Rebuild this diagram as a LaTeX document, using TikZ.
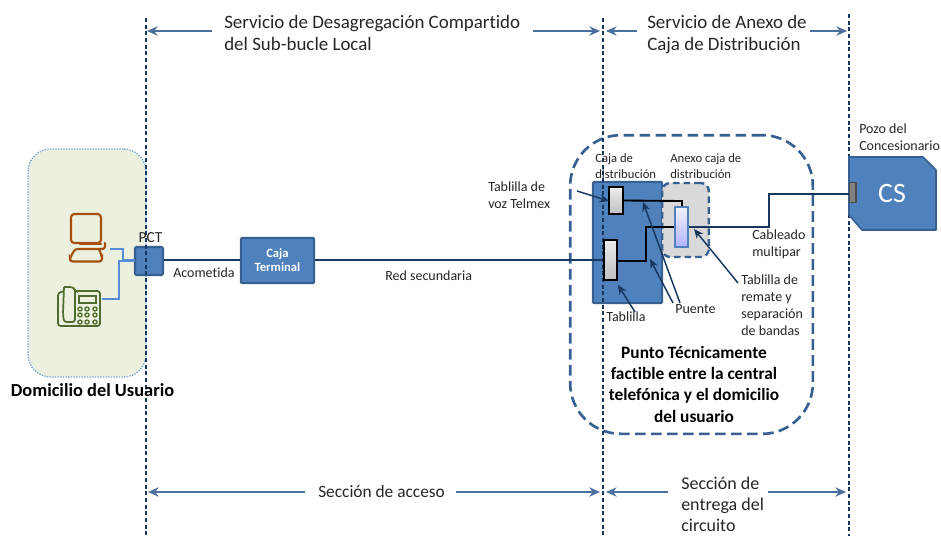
\documentclass[tikz,border=0pt]{standalone}
\usepackage{fontspec}
\setmainfont{Carlito}[Ligatures=NoCommon]
\usetikzlibrary{arrows.meta,calc}
\definecolor{bluefill}{HTML}{4F81BD}
\definecolor{blueedge}{HTML}{376092}
\definecolor{navy}{HTML}{17375E}
\definecolor{homefill}{HTML}{EBF1DE}
\definecolor{wire}{HTML}{558ED5}
\definecolor{pcorange}{HTML}{A5500F}
\definecolor{phgreen}{HTML}{4F6B2E}
\definecolor{txt}{HTML}{262626}
\tikzset{
 x=0.75pt,y=-0.75pt,
 limit/.style={draw=navy,line width=0.9pt,densely dashed},
 span/.style={draw=blueedge!90,line width=1pt,-{Stealth[length=8pt,width=7pt]}},
 big/.style={inner sep=0pt,align=left,text=txt,font=\fontsize{14.2}{16.5}\selectfont},
 small/.style={inner sep=0pt,align=left,text=txt,font=\fontsize{9.5}{12}\selectfont},
 mid/.style={inner sep=0pt,align=left,text=txt,font=\fontsize{10.5}{12.75}\selectfont},
 bluebox/.style={draw=blueedge,fill=bluefill,line width=1.6pt,rounded corners=1pt,inner sep=0pt},
 strip/.style={draw=black,line width=1.1pt,inner sep=0pt,top color=gray!15,bottom color=gray!50},
 bond/.style={draw=black,line width=1.4pt},
 trunk/.style={draw=navy,line width=1.1pt},
 pointer/.style={draw=navy,line width=1.1pt,-{Stealth[length=7pt,width=6pt]}},
 homewire/.style={draw=wire,line width=1pt},
}
\begin{document}
\begin{tikzpicture}
\useasboundingbox (0,0) rectangle (941,536);
\fill[white] (0,0) rectangle (941,536);
% home
\node[draw=wire!80,fill=homefill,densely dotted,line width=1pt,rounded corners=17pt,inner sep=0pt,minimum width=88.5pt,minimum height=171pt] (home) at (87,263) {};
% big dashed region
\node[draw=blueedge,dash pattern=on 8pt off 4pt,line width=2pt,rounded corners=38pt,inner sep=0pt,minimum width=182pt,minimum height=224pt] (region) at (691.5,284.5) {};
% limits
\coordinate (l1t) at (146,18); \coordinate (l1b) at (146,536);
\coordinate (l2t) at (603,18); \coordinate (l2b) at (603,536);
\coordinate (l3t) at (849,14); \coordinate (l3b) at (849,536);
% boxes
\node[bluebox,minimum width=52pt,minimum height=91pt] (caja) at (627.5,242.5) {};
\node[draw=blueedge,fill=gray!30,dash pattern=on 5pt off 3pt,line width=1.8pt,rounded corners=6pt,inner sep=0pt,minimum width=35pt,minimum height=55.5pt] (anexo) at (685.5,220) {};
\node[bluebox,minimum width=21pt,minimum height=21pt] (pct) at (149,261) {};
\node[bluebox,minimum width=55pt,minimum height=34pt,text=white,align=center,font=\bfseries\fontsize{9.5}{10.5}\selectfont] (terminal) at (277.5,260.5) {Caja\\Terminal};
\draw[limit] (l1t)--(l1b);
\draw[limit] (l2t)--(l2b);
\draw[limit] (l3t)--(l3b);
% CS
\coordinate (cs1) at (849,157);\coordinate (cs2) at (923,157);\coordinate (cs3) at (936,170);\coordinate (cs4) at (936,230);\coordinate (cs5) at (862,230);\coordinate (cs6) at (849,215);
\draw[blueedge,fill=bluefill,line width=1.2pt,line join=round] (cs1)--(cs2)--(cs3)--(cs4)--(cs5)--(cs6)--cycle;
\node[text=white,inner sep=0pt,font=\fontsize{21}{24}\selectfont] (cs) at (892,194) {CS};
\node[draw=gray!60!black,fill=gray,line width=.8pt,inner sep=0pt,minimum width=5.2pt,minimum height=15.5pt] (port) at (852.5,192.5) {};
% strips
\node[strip,minimum width=10.5pt,minimum height=20pt] (t1) at (616,200.5) {};
\node[strip,minimum width=10pt,minimum height=30pt] (t2) at (610.5,260) {};
\node[draw=bluefill,line width=1.2pt,inner sep=0pt,top color=blue!5,bottom color=blue!30,minimum width=9.5pt,minimum height=30pt] (t3) at (681.5,227) {};
% wires
\draw[trunk] (pct.east |- 0,260) -- (terminal.west |- 0,260);
\draw[trunk] (terminal.east |- 0,260) -- (t2.west |- 0,260);
\draw[bond] (t1.east) -- (682,201) -- (t3.north -| 682,0);
\draw[bond] (t2.east |- 0,261) -- (646,261) -- (646,227) -- (t3.west);
\draw[trunk,line width=1.6pt] (t3.east) -- (769,227) -- (769,194) -- (port.west |- 0,194);
% home wires
\coordinate (pcout) at (110,249); \coordinate (phout) at (102,299);
\draw[homewire] (pcout) -- (123,249) -- (123,260) -- (pct.west |- 0,260);
\draw[homewire] (phout) -- (119,299) -- (119,261) -- (135,261);
% computer icon
\draw[pcorange,line width=1.6pt,rounded corners=2.5pt,line cap=round] (71,214) rectangle (101,243);
\draw[pcorange,line width=1.6pt,line cap=round] (80,244) -- (101,244);
\draw[pcorange,line width=1.6pt,line cap=round,rounded corners=2pt] (105,243) -- (105,249) -- (75,249) -- (70,258) -- (70,261.5) -- (102,261.5) -- (102,257) -- (99,249);
% phone icon
\begin{scope}[phgreen,line width=1.3pt,rounded corners=2pt]
\draw (64,291) -- (58,293) -- (58,326) -- (100,326) -- (100,291) -- (75,291);
\draw (64,287) -- (73,287) -- (75,290) -- (75,322) -- (64,322) -- (63,314) -- (64,287);
\draw[rounded corners=0pt,line width=1pt] (79,296) rectangle (96,303);
\end{scope}
\foreach \xx in {80,87,95}{\foreach \yy in {309,315,322}{\draw[phgreen,line width=1pt] (\xx,\yy) ellipse (2.1 and 1.9);}}
% span arrows
\coordinate (a1) at (212,31);\coordinate (a1e) at (147,31);
\coordinate (a2) at (533,31);\coordinate (a2e) at (600,31);
\coordinate (a3) at (637,31);\coordinate (a3e) at (606,31);
\coordinate (a4) at (810,31);\coordinate (a4e) at (847,31);
\coordinate (b1) at (305,492);\coordinate (b1e) at (148,492);
\coordinate (b2) at (456,492);\coordinate (b2e) at (600,492);
\coordinate (b3) at (668,492);\coordinate (b3e) at (606,492);
\coordinate (b4) at (768,492);\coordinate (b4e) at (846,492);
\foreach \s/\e in {a1/a1e,a2/a2e,a3/a3e,a4/a4e,b1/b1e,b2/b2e,b3/b3e,b4/b4e}{\draw[span] (\s)--(\e);}
% pointers
\coordinate (pv) at (577,191);
\coordinate (pu) at (680,303);\coordinate (pu2) at (673,303);
\coordinate (pt) at (635,312);
\coordinate (pr) at (738,283);
\draw[pointer] (pv) -- (609,201);
\draw[pointer] (pu) -- (643,202);
\draw[pointer] (pu2) -- (650,259);
\draw[pointer] (pt) -- (618,285);
\draw[pointer] (pr) -- (694,229);
% texts
\node[big,anchor=north west] (s1) at (224,15) {Servicio de Desagregación Compartido\\del Sub-bucle Local};
\node[big,anchor=north west] (s2) at (647,15) {Servicio de Anexo de\\Caja de Distribución};
\node[big,anchor=west,font=\fontsize{13}{16.5}\selectfont] (s3) at (318,492) {Sección de acceso};
\node[big,anchor=north west,font=\fontsize{13.5}{16}\selectfont] (s4) at (681,476.5) {Sección de\\entrega del\\circuito};
\node[small,anchor=north west] (c1) at (595,153) {Caja de\\distribución};
\node[small,anchor=north west] (c2) at (670,153) {Anexo caja de\\distribución};
\node[mid,anchor=north west] (c3) at (488,182) {Tablilla de\\voz Telmex};
\node[mid,anchor=north west] (c4) at (859,124) {Pozo del\\Concesionario};
\node[mid,anchor=center,font=\fontsize{11.5}{13}\selectfont] (c5) at (150.5,238) {PCT};
\node[mid,anchor=west] (c6) at (173,273) {Acometida};
\node[mid,anchor=west] (c7) at (385,276) {Red secundaria};
\node[mid,anchor=north west] (c8) at (752,230) {Cableado\\multipar};
\node[mid,anchor=north west] (c9) at (741,275) {Tablilla de\\remate y\\separación\\de bandas};
\node[mid,anchor=west] (c10) at (606,317) {Tablilla};
\node[mid,anchor=west] (c11) at (675,309) {Puente};
\node[inner sep=0pt,text=black,font=\bfseries\fontsize{13.8}{17.5}\selectfont] (home lbl) at (92.5,390) {Domicilio del Usuario};
\node[inner sep=0pt,text=black,align=center,font=\bfseries\fontsize{13}{16}\selectfont] (punto) at (694,384) {Punto Técnicamente\\factible entre la central\\telefónica y el domicilio\\del usuario};
\end{tikzpicture}
\end{document}
